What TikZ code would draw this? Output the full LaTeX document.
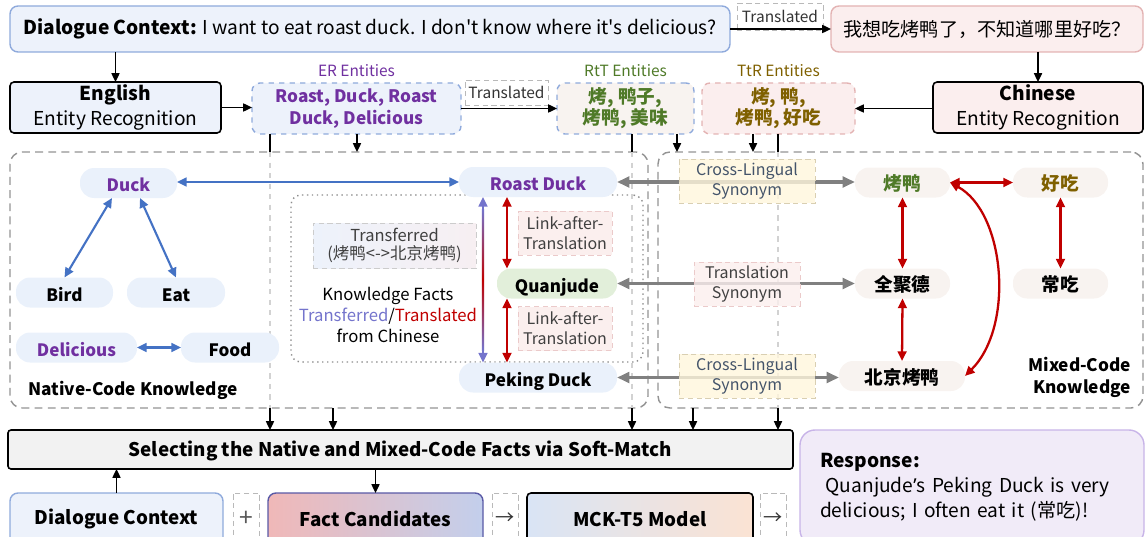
\documentclass[tikz,border=0pt]{standalone}
\usepackage{fontspec}
\setmainfont{Noto Sans CJK SC}
\newfontfamily\quotefont{Noto Sans}
\usetikzlibrary{arrows.meta,positioning}

\newlength\px
\setlength\px{0.02cm}

\definecolor{ctxblue}{HTML}{EDF2FB}
\definecolor{ctxedge}{HTML}{8FAADC}
\definecolor{zhpink}{HTML}{FBEEEE}
\definecolor{zhedge}{HTML}{E3B3B3}
\definecolor{erpurple}{HTML}{7030A0}
\definecolor{rtgreen}{HTML}{4F7A28}
\definecolor{trgold}{HTML}{7F6000}
\definecolor{nodeblue}{HTML}{EAF1FB}
\definecolor{nodewarm}{HTML}{F8F3F0}
\definecolor{nodegreen}{HTML}{E2EFDA}
\definecolor{linkblue}{HTML}{4472C4}
\definecolor{linkred}{HTML}{C00000}
\definecolor{tblue}{HTML}{7474CC}
\definecolor{syngray}{HTML}{808080}
\definecolor{selgray}{HTML}{F2F2F2}
\definecolor{respurple}{HTML}{F1EBF8}
\definecolor{resedge}{HTML}{C8B4E8}
\definecolor{synyellow}{HTML}{FFF6DC}
\definecolor{synpink}{HTML}{FBEFEE}
\definecolor{syntext}{HTML}{44546A}
\definecolor{fcred}{HTML}{F0B8B8}
\definecolor{fcblue}{HTML}{C3CFEC}
\definecolor{mblue}{HTML}{D9E4F5}
\definecolor{mgreen}{HTML}{E3EFDB}
\definecolor{morange}{HTML}{FBE3D3}

\newcommand\fbig{\fontsize{10.9}{14.2}\selectfont}
\newcommand\fbar{\fontsize{10.7}{13}\selectfont}
\newcommand\fmid{\fontsize{9.8}{12.5}\selectfont}
\newcommand\fnode{\fontsize{9.7}{11}\selectfont}
\newcommand\fcjk{\fontsize{10.6}{12}\selectfont}
\newcommand\fnote{\fontsize{9.1}{11.4}\selectfont}
\newcommand\fsmall{\fontsize{8.8}{10.6}\selectfont}

\begin{document}
\begin{tikzpicture}[
    x = 0.02cm, y = -0.02cm,
    every node/.style = {inner sep=0pt, outer sep=0pt},
    box/.style = {draw, rounded corners=4\px, line width=0.9pt, align=center},
    ctx/.style = {box, draw=ctxedge, fill=ctxblue, line width=0.8pt, rounded corners=8\px},
    ent/.style = {draw=ctxedge, dashed, fill=ctxblue, rounded corners=8\px, line width=0.8pt,
                  align=center, minimum height=51\px, font=\fmid\bfseries},
    tag/.style = {draw=gray!55, densely dashed, line width=0.5pt, fill=white, font=\fsmall, text=black!80},
    pill/.style = {fill=nodeblue, rounded corners=14\px, minimum height=30\px, font=\fnode\bfseries,
                   text height=1em, text depth=0pt},
    warm/.style = {pill, fill=nodewarm, font=\fcjk\bfseries, text height=0.95em},
    note/.style = {draw=gray!40, densely dashed, line width=0.4pt, align=center, font=\fnote, text=black!75},
    synbox/.style = {note, fill opacity=0.8, text opacity=1, text=syntext, minimum height=44\px},
    group/.style = {draw=gray!85, dash pattern=on 4.5pt off 3pt, line width=0.8pt, rounded corners=12\px},
    flow/.style = {-{Triangle[length=5pt,width=4.6pt]}, line width=0.8pt},
    blink/.style = {{Triangle[length=5.5pt,width=5pt]}-{Triangle[length=5.5pt,width=5pt]}, draw=linkblue, line width=1.2pt},
    rlink/.style = {{Triangle[length=5.5pt,width=5pt]}-{Triangle[length=5.5pt,width=5pt]}, draw=linkred, line width=1.3pt},
    syn/.style = {{Triangle[length=7pt,width=6pt]}-{Triangle[length=7pt,width=6pt]}, draw=syngray, line width=1.8pt},
    ghost/.style = {draw=gray!35, dashed, line width=0.6pt}]

\useasboundingbox (0,0) rectangle (1146,537);

% inputs and entity recognition
\node[ctx, minimum width=720\px, minimum height=46\px, font=\fbig] (ctx) at (370,29)
    {\textbf{Dialogue Context:} I want to eat roast duck. I don\textquotesingle t know where it\textquotesingle s delicious?};
\node[ctx, draw=zhedge, fill=zhpink, minimum width=312\px, minimum height=46\px, font=\fbig] (zh) at (987,29)
    {我想吃烤鸭了，不知道哪里好吃？};
\node[tag, minimum width=86\px, minimum height=27\px] (tr1) at (780,16.5) {Translated};

\node[box, fill=ctxblue, minimum width=211\px, minimum height=51\px, font=\fbig] (en) at (115.5,107.5)
    {\textbf{English}\\Entity Recognition};
\node[box, fill=zhpink, minimum width=210\px, minimum height=51\px, font=\fbig] (zhner) at (1038,107.5)
    {\textbf{Chinese}\\Entity Recognition};

\node[ent, minimum width=209\px, text=erpurple] (er) at (356.5,108.5) {Roast, Duck, Roast\\Duck, Delicious};
\node[ent, fill=nodewarm, minimum width=137\px, text=rtgreen, font=\fcjk\bfseries] (rtt) at (625.5,108.5) {烤, 鸭子,\\烤鸭, 美味};
\node[ent, draw=zhedge, fill=zhpink, minimum width=153\px, text=trgold, font=\fcjk\bfseries] (ttr) at (778.5,108.5) {烤, 鸭,\\烤鸭, 好吃};
\node[font=\fsmall, text=erpurple, above=6\px of er] (erlab) {ER Entities};
\node[font=\fsmall, text=rtgreen, above=6\px of rtt] (rttlab) {RtT Entities};
\node[font=\fsmall, text=trgold, above=6\px of ttr] (ttrlab) {TtR Entities};
\node[tag, minimum width=83\px, minimum height=25\px] (tr2) at (506.5,92.5) {Translated};

\draw[flow] (ctx.east) -- (zh.west);
\draw[flow] (ctx.south -| en.north) -- (en.north);
\draw[flow] (zh.south -| zhner.north) -- (zhner.north);
\draw[flow] (en.east) -- (en.east -| er.west);
\draw[flow] (er.east) -- (rtt.west);
\draw[flow] (zhner.west |- ttr.east) -- (ttr.east);

% knowledge groups
\node[group, minimum width=638\px, minimum height=256\px] (native) at (329,280) {};
\node[group, minimum width=485\px, minimum height=256\px] (mixed) at (900.5,280) {};
\node[draw=gray!90, dotted, line width=0.8pt, rounded corners=10\px,
      minimum width=352\px, minimum height=167\px] (facts) at (467,278.5) {};

\node[box, fill=selgray, rounded corners=3\px, minimum width=785\px, minimum height=39\px,
      font=\fbar\bfseries, text height=1em] (sel) at (400.5,449.5) {Selecting the Native and Mixed-Code Facts via Soft-Match};

\foreach \x/\a/\b in {270/er/native, 632/rtt/native, 778/ttr/mixed} {
    \coordinate (p\x) at (\x,0);
    \draw[line width=0.8pt] (\a.south -| p\x) -- (\b.north -| p\x);
    \draw[ghost] (\b.north -| p\x) -- (\b.south -| p\x);
    \draw[flow] (\b.south -| p\x) -- (sel.north -| p\x);
}
\foreach \x/\a/\b in {357/er/native, 677/rtt/mixed, 753/ttr/mixed} {
    \coordinate (q\x) at (\x,0);
    \draw[flow] (\a.south -| q\x) -- (\b.north -| q\x);
}
\foreach \x/\b in {333/native, 693/mixed} {
    \coordinate (r\x) at (\x,0);
    \draw[flow] (\b.south -| r\x) -- (sel.north -| r\x);
}

% native-code knowledge
\node[pill, minimum width=97\px, text=erpurple] (duck) at (128.5,183) {Duck};
\node[pill, minimum width=97\px] (bird) at (64.5,292.5) {Bird};
\node[pill, minimum width=98\px] (eat) at (176,292.5) {Eat};
\node[pill, minimum width=121\px, text=erpurple] (deli) at (76.5,347.5) {Delicious};
\node[pill, minimum width=98\px] (food) at (230,347.5) {Food};
\node[font=\fmid\bfseries] (nlab) at (133,390) {Native-Code Knowledge};

\draw[blink] ([xshift=-16.5\px]duck.south) -- (bird.north);
\draw[blink] ([xshift=11.5\px]duck.south) -- (eat.north);
\draw[blink] (deli.east) -- (food.west);

% facts taken over from chinese
\node[pill, minimum width=158\px, text=erpurple] (rd) at (538,182) {Roast Duck};
\node[pill, fill=nodegreen, minimum width=120\px] (qjd) at (557,283.5) {Quanjude};
\node[pill, minimum width=158\px] (pd) at (538,377.5) {Peking Duck};
\node[note, draw=zhedge!70, fill=synpink, minimum width=94\px, minimum height=44\px] (lat1) at (565,233) {Link-after-\\Translation};
\node[note, draw=zhedge!70, fill=synpink, minimum width=94\px, minimum height=44\px] (lat2) at (565,328.5) {Link-after-\\Translation};
\node[note, left color=ctxblue, right color=zhpink!70!ctxblue, minimum width=163\px, minimum height=45\px,
      font=\fontsize{9.4}{10.4}\selectfont] (trf) at (394.5,245.5)
    {Transferred\\(烤鸭<->北京烤鸭)};
\node[font=\fontsize{9.5}{12}\selectfont, align=center] (kf) at (388,315)
    {Knowledge Facts\\\textcolor{tblue}{Transferred}/\textcolor{linkred}{Translated}\\from Chinese};

\draw[blink] (rd.west) -- (duck.east |- rd.west);
\coordinate (gx) at (483,0);
\coordinate (rx) at (507,0);
\draw[{Triangle[length=5.5pt,width=5pt]}-{Triangle[length=5.5pt,width=5pt]}, draw=tblue, line width=1.2pt]
    (rd.south -| gx) coordinate (g1) -- (pd.north -| gx) coordinate (g2);
\shade[top color=tblue, bottom color=tblue, middle color=linkred]
    ([xshift=-0.6pt,yshift=-7pt]g1) rectangle ([xshift=0.6pt,yshift=7pt]g2);
\draw[rlink] (rd.south -| rx) -- (qjd.north -| rx);
\draw[rlink] (qjd.south -| rx) -- (pd.north -| rx);

% mixed-code knowledge
\node[warm, minimum width=95\px, text=rtgreen] (ky) at (902.5,182.5) {烤鸭};
\node[warm, minimum width=95\px, text=trgold] (hc) at (1060.5,182.5) {好吃};
\node[warm, minimum width=95\px] (qjdz) at (902.5,283.5) {全聚德};
\node[warm, minimum width=95\px] (cc) at (1060.5,283.5) {常吃};
\node[warm, minimum width=126\px] (bjky) at (902,376) {北京烤鸭};
\node[font=\fmid\bfseries, align=right, anchor=east] (mlab) at (1131,377.5)
    {\fontsize{9.8}{13}\selectfont Mixed-Code\\Knowledge};

\draw[rlink] (ky.east) -- (hc.west);
\draw[rlink] (ky.south) -- (qjdz.north);
\draw[rlink] (qjdz.south) -- (bjky.north);
\draw[rlink] (hc.south) -- (cc.north);
\draw[rlink] (ky.east) .. controls +(55,30) and +(50,-50) .. (bjky.east);

\draw[syn] (rd.east) -- (rd.east -| ky.west);
\draw[syn] (qjd.east) -- (qjdz.west);
\draw[syn] (pd.east) -- (pd.east -| bjky.west);
\node[synbox, draw=trgold!30, fill=synyellow, minimum width=136\px] (cl1) at (747,181) {Cross-Lingual\\Synonym};
\node[synbox, draw=zhedge!70, fill=synpink, minimum width=106\px, text=black!75] (ts) at (747,284) {Translation\\Synonym};
\node[synbox, draw=trgold!30, fill=synyellow, minimum width=136\px] (cl2) at (747,376) {Cross-Lingual\\Synonym};

% generation
\node[ctx, minimum width=213\px, minimum height=52\px, font=\fbar\bfseries] (dc) at (116.5,519) {Dialogue Context};
\node[tag, minimum width=26\px, minimum height=52\px, font=\fontsize{14}{14}\selectfont, text=black!65] (plus) at (246,519) {+};
\node[box, draw=gray!70!blue, line width=0.8pt, rounded corners=8\px, left color=fcred, right color=fcblue,
      minimum width=215\px, minimum height=52\px, font=\fbar\bfseries] (fc) at (375.5,519) {Fact Candidates};
\node[tag, minimum width=26\px, minimum height=52\px, font=\fbig] (to1) at (505,519) {→};
\node[box, left color=mblue, middle color=mgreen, right color=morange,
      minimum width=226\px, minimum height=52\px, font=\fbar\bfseries] (mck) at (640,519) {MCK-T5 Model};
\node[tag, minimum width=26\px, minimum height=52\px, font=\fbig] (to2) at (773.5,519) {→};
\node[box, draw=resedge, fill=respurple, line width=0.8pt, rounded corners=15\px, minimum width=344\px,
      minimum height=115\px, text width=304\px, align=left, font=\fbig] (resp) at (972,487.5)
    {\textbf{Response:}\\\hspace*{0.3em}Quanjude{\quotefont ’}s Peking Duck is very\\delicious; I often eat it (常吃)!};

\draw[flow] (dc.north) -- (dc.north |- sel.south);
\draw[flow] (sel.south -| fc.north) -- (fc.north);

\end{tikzpicture}
\end{document}
